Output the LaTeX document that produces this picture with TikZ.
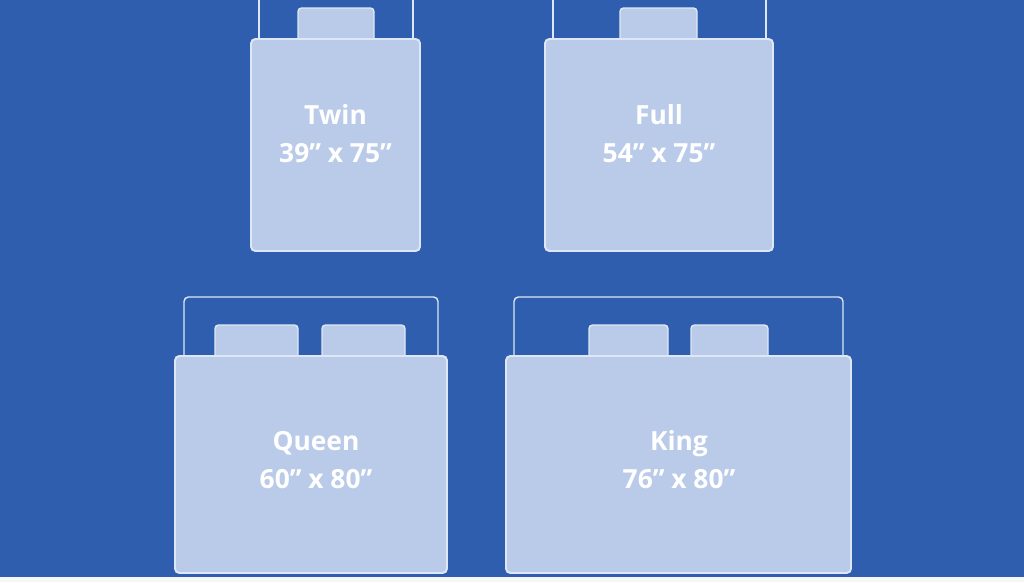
\documentclass[tikz,border=0pt]{standalone}
\usepackage{fontspec}
\setmainfont{Open Sans}
\usetikzlibrary{positioning}

\definecolor{bgblue}{RGB}{47,94,174}
\definecolor{sheet}{RGB}{186,203,234}
\definecolor{edge}{RGB}{222,231,246}

\tikzset{
  mattress/.style={draw=edge, fill=sheet, line width=1.1pt, rounded corners=2.5pt},
  pillow/.style={draw=edge, fill=sheet, line width=0.8pt, rounded corners=2pt},
  board/.style={draw=edge, line width=0.8pt, rounded corners=2.5pt},
  bedtext/.style={text=white, align=center, inner sep=0pt,
    font=\bfseries\fontsize{15}{21.6}\selectfont}
}

\begin{document}
\begin{tikzpicture}[x=0.02cm, y=-0.02cm]

  % background
  \fill[bgblue] (0,0) rectangle (1024,582);
  \fill[white!94!gray] (0,577) rectangle (1024,582);
  \useasboundingbox (0,0) rectangle (1024,582);
  \clip (0,0) rectangle (1024,582);

  % twin
  \draw[board] (259,-5) -- (259,40);
  \draw[board] (413,-5) -- (413,40);
  \draw[pillow] (298,40) -- (298,8) -- (374,8) -- (374,40);
  \draw[mattress] (251,39) rectangle (420,251);
  \node[bedtext] (twin) at (335.5,134) {Twin\\39” x 75”};

  % full
  \draw[board] (553,-5) -- (553,40);
  \draw[board] (766,-5) -- (766,40);
  \draw[pillow] (620,40) -- (620,8) -- (697,8) -- (697,40);
  \draw[mattress] (545,39) rectangle (773,251);
  \node[bedtext] (full) at (659,134) {Full\\54” x 75”};

  % queen
  \draw[board] (184,357) -- (184,297) -- (438,297) -- (438,357);
  \draw[pillow] (215,357) -- (215,325) -- (298,325) -- (298,357);
  \draw[pillow] (322,357) -- (322,325) -- (405,325) -- (405,357);
  \draw[mattress] (175,356) rectangle (447,573);
  \node[bedtext] (queen) at (316,460) {Queen\\60” x 80”};

  % king
  \draw[board] (514,357) -- (514,297) -- (843,297) -- (843,357);
  \draw[pillow] (589,357) -- (589,325) -- (668,325) -- (668,357);
  \draw[pillow] (691,357) -- (691,325) -- (768,325) -- (768,357);
  \draw[mattress] (506,356) rectangle (851,573);
  \node[bedtext] (king) at (679,460) {King\\76” x 80”};

\end{tikzpicture}
\end{document}
